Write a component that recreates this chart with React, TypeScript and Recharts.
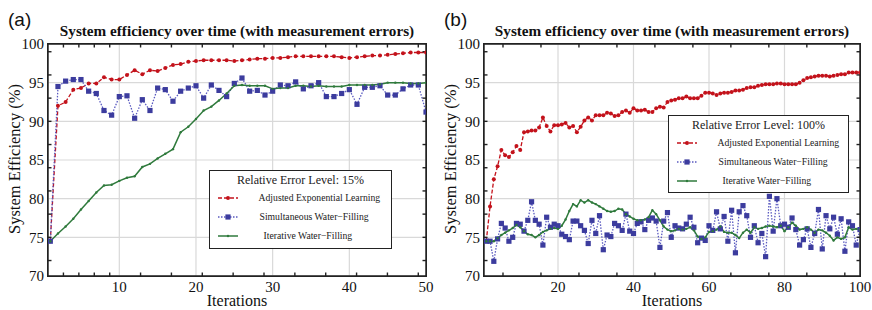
import { LineChart, Line, XAxis, YAxis, CartesianGrid } from "recharts";

const serif = "'Liberation Serif', 'Times New Roman', serif";
const RED = "#c3121b";
const BLUE = "#3c3c9e";
const BLUE_LINE = "#5a5ac0";
const GREEN = "#2f7a3c";

// panel (a): 50 iterations, 15% error
const aelA = [74.5, 92.0, 92.5, 94.1, 94.3, 94.9, 94.9, 95.7, 95.4, 95.4, 96.0, 96.6, 96.1, 96.6, 96.5, 96.9, 97.3, 97.4, 97.7, 97.8, 97.9, 97.9, 97.9, 97.9, 97.8, 97.9, 98.0, 98.1, 98.1, 98.2, 98.2, 98.3, 98.4, 98.4, 98.4, 98.4, 98.4, 98.4, 98.3, 98.2, 98.3, 98.4, 98.5, 98.5, 98.6, 98.7, 98.8, 98.9, 98.9, 98.9];
const swfA = [74.5, 94.5, 95.2, 95.4, 95.4, 93.9, 93.6, 91.4, 90.8, 93.2, 93.3, 90.4, 92.8, 91.4, 94.3, 94.1, 92.6, 93.9, 94.3, 94.6, 93.0, 94.7, 94.0, 93.2, 94.9, 95.6, 93.9, 94.0, 93.4, 93.9, 94.7, 94.6, 95.1, 94.2, 94.6, 95.0, 93.2, 93.2, 93.6, 94.1, 92.2, 94.4, 94.4, 94.6, 93.4, 93.4, 94.2, 94.7, 94.7, 91.2];
const iwfA = [74.5, 75.5, 76.4, 77.4, 78.6, 79.7, 80.8, 81.7, 81.8, 82.3, 82.7, 82.9, 84.1, 84.5, 85.2, 85.8, 86.4, 88.6, 89.3, 90.3, 91.4, 91.9, 92.7, 93.6, 94.6, 94.7, 94.6, 94.6, 94.6, 94.2, 94.3, 94.3, 94.6, 94.6, 94.5, 94.6, 94.5, 94.5, 94.5, 94.7, 94.7, 94.7, 94.7, 94.8, 95.0, 95.0, 95.0, 94.9, 94.9, 95.0];

// panel (b): 100 iterations, 100% error
const aelB = [74.5, 79.0, 82.5, 84.2, 86.3, 85.6, 85.4, 86.0, 86.8, 86.3, 88.6, 88.7, 88.8, 88.8, 89.2, 90.5, 89.4, 88.7, 89.5, 89.5, 89.6, 89.8, 89.2, 89.4, 88.6, 89.3, 90.1, 90.5, 90.1, 90.8, 90.8, 90.8, 91.1, 91.0, 90.7, 90.8, 91.2, 91.4, 91.1, 91.7, 91.4, 91.4, 91.5, 91.2, 91.2, 91.7, 91.9, 91.8, 92.5, 92.7, 92.8, 93.0, 93.0, 93.2, 93.0, 93.0, 93.0, 93.3, 93.7, 93.7, 93.6, 93.4, 93.6, 93.7, 93.7, 93.8, 94.0, 94.0, 94.1, 94.3, 94.4, 94.4, 94.6, 94.7, 94.8, 94.8, 94.8, 94.9, 94.9, 94.8, 94.8, 94.8, 94.8, 95.0, 95.3, 95.6, 95.7, 95.8, 95.9, 95.9, 95.9, 95.8, 95.9, 96.0, 96.1, 96.1, 96.3, 96.3, 96.3, 96.3];
const swfB = [74.5, 74.5, 71.9, 74.8, 76.8, 76.2, 74.5, 75.0, 76.8, 76.7, 75.8, 77.2, 79.6, 77.2, 76.7, 74.0, 77.6, 76.3, 76.7, 76.5, 75.4, 75.1, 74.7, 77.1, 77.1, 76.5, 75.9, 74.2, 77.2, 75.5, 77.8, 73.4, 75.3, 75.1, 76.8, 76.5, 75.9, 78.0, 75.8, 75.5, 76.8, 77.0, 76.0, 77.2, 77.5, 77.1, 73.7, 77.1, 78.2, 75.0, 76.5, 76.2, 76.1, 76.7, 77.6, 76.3, 74.3, 74.9, 74.6, 76.5, 75.9, 78.3, 76.1, 77.7, 74.5, 78.5, 73.0, 78.3, 79.1, 77.8, 75.0, 76.5, 74.3, 75.5, 72.5, 80.3, 75.8, 80.0, 76.5, 76.7, 76.3, 77.5, 76.0, 74.0, 74.7, 76.1, 73.7, 75.5, 78.6, 73.5, 77.8, 76.1, 77.6, 75.4, 77.4, 73.2, 77.0, 76.5, 74.0, 76.0];
const iwfB = [74.5, 74.5, 74.5, 74.9, 75.3, 75.6, 75.9, 76.2, 76.6, 76.3, 75.8, 75.4, 75.3, 75.0, 75.3, 75.7, 75.9, 76.1, 76.2, 76.1, 76.5, 77.3, 78.4, 79.3, 79.0, 79.8, 79.5, 79.8, 79.5, 79.3, 79.0, 78.7, 78.4, 78.3, 78.4, 78.7, 78.6, 78.0, 77.7, 77.4, 77.2, 77.2, 77.3, 77.6, 78.5, 78.0, 77.2, 76.4, 76.0, 75.8, 75.9, 76.1, 76.0, 76.1, 76.3, 75.9, 75.1, 74.8, 75.0, 75.7, 75.8, 76.0, 76.4, 75.7, 75.6, 75.6, 75.3, 74.9, 75.6, 76.0, 75.6, 76.3, 76.1, 76.2, 76.4, 76.5, 76.4, 76.3, 76.5, 75.8, 76.3, 76.9, 76.5, 76.0, 76.1, 76.3, 76.0, 75.6, 76.0, 75.9, 75.6, 75.2, 74.6, 75.0, 74.8, 75.0, 76.3, 76.0, 76.1, 76.0];

const seriesNames = ["Adjusted Exponential Learning", "Simultaneous Water\u2212Filling", "Iterative Water\u2212Filling"];
const title = "System efficiency over time (with measurement errors)";

const xTicksA = [10, 20, 30, 40, 50];
const xMinorA = [2, 4, 6, 8, 10, 12, 14, 16, 18, 20, 22, 24, 26, 28, 30, 32, 34, 36, 38, 40, 42, 44, 46, 48];
const xTicksB = [20, 40, 60, 80, 100];
const xMinorB = [5, 10, 15, 20, 25, 30, 35, 40, 45, 50, 55, 60, 65, 70, 75, 80, 85, 90, 95];
const yTicks = [70, 75, 80, 85, 90, 95, 100];
const yMinor = [71, 72, 73, 74, 75, 76, 77, 78, 79, 80, 81, 82, 83, 84, 85, 86, 87, 88, 89, 90, 91, 92, 93, 94, 95, 96, 97, 98, 99];

function rows(a: number[], s: number[], w: number[]) {
  return a.map((v, k) => ({ it: k + 1, ael: v, swf: s[k], iwf: w[k] }));
}

/* eslint-disable @typescript-eslint/no-explicit-any */
const RedDot = (p: any) => <circle key={`r${p.index}`} cx={p.cx} cy={p.cy} r={2} fill={RED} />;
const BlueSq = (p: any) => <rect key={`b${p.index}`} x={p.cx - 2.6} y={p.cy - 2.6} width={5.2} height={5.2} fill={BLUE} />;
const GreenDot = (p: any) => <circle key={`g${p.index}`} cx={p.cx} cy={p.cy} r={1.2} fill={GREEN} />;
/* eslint-enable @typescript-eslint/no-explicit-any */

const frame = { stroke: "#222", strokeWidth: 1.4 };
const tickFont = { fill: "#111", fontSize: 15, fontFamily: serif };
const noLabel = <g />;

function Sample({ i }: { i: number }) {
  return (
    <svg width={20} height={8} style={{ position: "absolute", left: 0, top: -4 }}>
      {i === 0 && <><line x1={0} x2={20} y1={4} y2={4} stroke={RED} strokeWidth={1.3} strokeDasharray="4 2" /><circle cx={10} cy={4} r={2} fill={RED} /></>}
      {i === 1 && <><line x1={0} x2={20} y1={4} y2={4} stroke={BLUE_LINE} strokeWidth={1.3} strokeDasharray="1.5 1.5" /><rect x={7.4} y={1.4} width={5.2} height={5.2} fill={BLUE} /></>}
      {i === 2 && <><line x1={0} x2={20} y1={4} y2={4} stroke={GREEN} strokeWidth={1.5} /><circle cx={10} cy={4} r={1.2} fill={GREEN} /></>}
    </svg>
  );
}

function LegendBox({ left, top, w, h, level }: { left: number; top: number; w: number; h: number; level: number }) {
  const rowsY = [28, 47, 66];
  const labelX = [50, 51, 55];
  return (
    <div style={{ position: "absolute", left, top, width: w, height: h, boxSizing: "border-box", border: "1.5px solid #222", background: "#fff", fontFamily: serif, color: "#222" }}>
      <div style={{ position: "absolute", left: 0, width: "100%", top: 11 - 1.5 - 6.5, textAlign: "center", fontSize: 12, lineHeight: "13px", whiteSpace: "nowrap" }}>
        {`Relative Error Level: ${level}%`}
      </div>
      {seriesNames.map((n, i) => (
        <div key={n}>
          <div style={{ position: "absolute", left: 9 - 1.5, top: rowsY[i] - 1.5 }}><Sample i={i} /></div>
          <div style={{ position: "absolute", left: labelX[i] - 1.5, top: rowsY[i] - 1.5 - 5.5, fontSize: 9.7, lineHeight: "11px", whiteSpace: "nowrap" }}>{n}</div>
        </div>
      ))}
    </div>
  );
}

type PanelProps = {
  ox: number; tag: string; mr: number;
  data: { it: number; ael: number; swf: number; iwf: number }[];
  xDomain: [number, number]; xTicks: number[]; xMinor: number[];
};

function Panel({ ox, tag, mr, data, xDomain, xTicks, xMinor }: PanelProps) {
  const plotW = 436 - 48 - mr;
  return (
    <>
      <div style={{ position: "absolute", left: ox, top: 0 }}>
        <LineChart width={436} height={310} data={data} margin={{ top: 44, right: mr, bottom: 33, left: 47 }}>
          <CartesianGrid xAxisId="x" yAxisId="y" stroke="#d9d9d9" strokeWidth={1.2} />
          <XAxis xAxisId="xb" type="number" domain={xDomain} allowDataOverflow ticks={xMinor} height={1} mirror
            tick={noLabel} tickSize={3.5} axisLine={frame} tickLine={frame} />
          <XAxis xAxisId="xt" orientation="top" type="number" domain={xDomain} allowDataOverflow ticks={xMinor} height={1} mirror
            tick={noLabel} tickSize={3.5} axisLine={frame} tickLine={frame} />
          <YAxis yAxisId="yl" type="number" domain={[70, 100]} allowDataOverflow ticks={yMinor} width={1} mirror
            tick={noLabel} tickSize={3.5} axisLine={frame} tickLine={frame} />
          <YAxis yAxisId="yr" orientation="right" type="number" domain={[70, 100]} allowDataOverflow ticks={yMinor} width={1} mirror
            tick={noLabel} tickSize={3.5} axisLine={frame} tickLine={frame} />
          <XAxis xAxisId="x" dataKey="it" type="number" domain={xDomain} allowDataOverflow ticks={xTicks} height={1}
            tickSize={0} tickMargin={5} axisLine={false} tickLine={false} tick={tickFont} />
          <YAxis yAxisId="y" type="number" domain={[70, 100]} allowDataOverflow ticks={yTicks} width={1}
            tickSize={0} tickMargin={4} axisLine={false} tickLine={false} tick={tickFont} />
          <Line xAxisId="x" yAxisId="y" dataKey="ael" name={seriesNames[0]} stroke={RED} strokeWidth={1.3} strokeDasharray="4 2" dot={RedDot} isAnimationActive={false} />
          <Line xAxisId="x" yAxisId="y" dataKey="swf" name={seriesNames[1]} stroke={BLUE_LINE} strokeWidth={1.3} strokeDasharray="1.5 1.5" dot={BlueSq} isAnimationActive={false} />
          <Line xAxisId="x" yAxisId="y" dataKey="iwf" name={seriesNames[2]} stroke={GREEN} strokeWidth={1.5} dot={GreenDot} isAnimationActive={false} />
        </LineChart>
      </div>
      {/* plot frame */}
      <div style={{ position: "absolute", left: ox + 47.3, top: 43.3, width: plotW + 1.4, height: 232 + 1.4, boxSizing: "border-box", border: "1.4px solid #222", pointerEvents: "none" }} />
      <div style={{ position: "absolute", left: ox + 8, top: 10, fontFamily: "'Liberation Sans', Arial, sans-serif", fontSize: 19, lineHeight: "20px", color: "#111" }}>{tag}</div>
      <div style={{ position: "absolute", left: ox + 48, width: plotW, top: 23, textAlign: "center", fontFamily: serif, fontWeight: "bold", fontSize: 15.2, lineHeight: "16px", whiteSpace: "nowrap", color: "#111" }}>{title}</div>
      <div style={{ position: "absolute", left: ox + 48, width: plotW, top: 292, textAlign: "center", fontFamily: serif, fontSize: 16, lineHeight: "18px", color: "#111" }}>Iterations</div>
      <div style={{ position: "absolute", left: ox + 15, top: 159, transform: "translate(-50%, -50%) rotate(-90deg)", fontFamily: serif, fontSize: 16.5, lineHeight: "18px", whiteSpace: "nowrap", color: "#111" }}>System Efficiency (%)</div>
    </>
  );
}

export default function App() {
  return (
    <div style={{ position: "absolute", left: 0, top: 0, width: 872, height: 310, background: "#fff", overflow: "hidden" }}>
      <Panel ox={0} tag="(a)" mr={10} data={rows(aelA, swfA, iwfA)} xDomain={[0.7, 50]} xTicks={xTicksA} xMinor={xMinorA} />
      <Panel ox={436} tag="(b)" mr={12} data={rows(aelB, swfB, iwfB)} xDomain={[0.4, 100]} xTicks={xTicksB} xMinor={xMinorB} />
      <LegendBox left={209} top={170} w={183} h={79} level={15} />
      <LegendBox left={668} top={115} w={181} h={78} level={100} />
    </div>
  );
}
